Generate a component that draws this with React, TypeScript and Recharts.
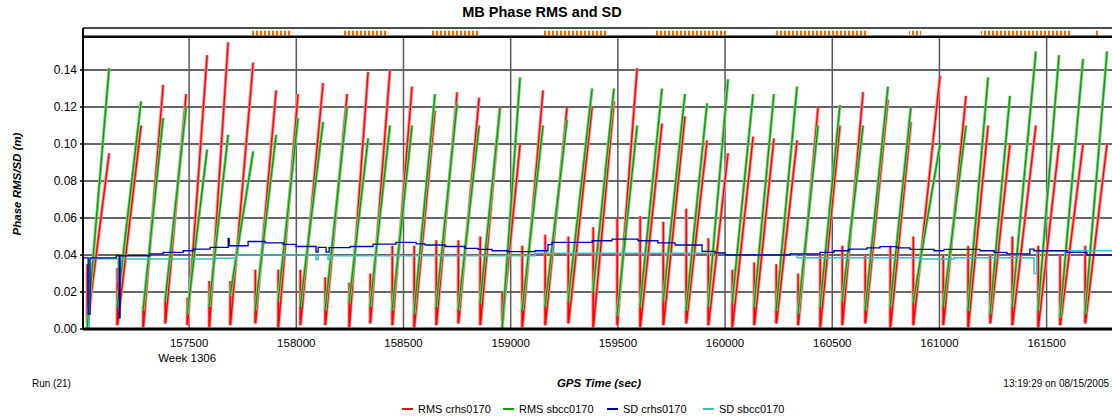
import React from "react";
import {
  ComposedChart,
  Line,
  XAxis,
  YAxis,
  CartesianGrid,
  ReferenceLine,
  ReferenceArea,
} from "recharts";

// ---------- axis values ----------
const X_MIN = 157005;
const X_MAX = 161805;
const xTicks = [157500, 158000, 158500, 159000, 159500, 160000, 160500, 161000, 161500];
const yTicks = [0, 0.02, 0.04, 0.06, 0.08, 0.1, 0.12, 0.14];
const PLOT_TOP = 0.158; // thick line under the status band
const BAND_TOP = 0.1627; // top edge of status band
const MARK_LO = 0.1588;
const MARK_HI = 0.1612;

// ---------- status band groups (orange ticks) ----------
const bandStart = [157784, 158214, 158629, 159151, 159669, 160238, 160858, 161194, 161726];
const bandEnd = [157976, 158428, 158857, 159450, 160014, 160662, 160914, 161609, 161740];

// ---------- RMS sawtooth cycles (shared epochs) ----------
const toothStart = [
  157024, 157164, 157285, 157388, 157491, 157593, 157691, 157808, 157915, 158018,
  158134, 158246, 158344, 158447, 158549, 158652, 158755, 158857, 158960, 159053,
  159160, 159268, 159384, 159496, 159603, 159711, 159818, 159921, 160033, 160135,
  160238, 160340, 160443, 160546, 160653, 160770, 160877, 161017, 161133, 161236,
  161339, 161460, 161562, 161679,
];
const toothPeak = [
  157127, 157276, 157379, 157486, 157584, 157682, 157799, 157906, 158008, 158125,
  158237, 158335, 158437, 158540, 158647, 158750, 158853, 158950, 159044, 159151,
  159263, 159380, 159482, 159590, 159706, 159813, 159916, 160014, 160131, 160228,
  160336, 160434, 160536, 160644, 160760, 160867, 161003, 161124, 161227, 161329,
  161450, 161558, 161670, 161782,
];
const redLow = [
  0.003, 0.002, 0.001, 0.003, 0.002, 0.001, 0.002, 0.003, 0.001, 0.002,
  0.002, 0.001, 0.003, 0.002, 0.001, 0.002, 0.003, 0.002, 0.004, 0.001,
  0.002, 0.003, 0.001, 0.002, 0.001, 0.002, 0.003, 0.002, 0.001, 0.002,
  0.003, 0.002, 0.001, 0.002, 0.003, 0.001, 0.002, 0.002, 0.001, 0.003,
  0.002, 0.001, 0.002, 0.003,
];
const redSpike = [
  0.035, 0.033, 0.012, 0.017, 0.017, 0.026, 0.026, 0.032, 0.032, 0.032,
  0.028, 0.025, 0.03, 0.045, 0.045, 0.048, 0.048, 0.05, 0.02, 0.045,
  0.051, 0.05, 0.055, 0.06, 0.061, 0.058, 0.065, 0.049, 0.032, 0.036,
  0.035, 0.03, 0.04, 0.045, 0.04, 0.045, 0.05, 0.04, 0.045, 0.04,
  0.05, 0.045, 0.04, 0.045,
];
const redPeak = [
  0.095, 0.11, 0.132, 0.127, 0.148, 0.155, 0.144, 0.129, 0.127, 0.133,
  0.127, 0.139, 0.14, 0.131, 0.118, 0.128, 0.125, 0.12, 0.1, 0.129,
  0.12, 0.12, 0.123, 0.141, 0.111, 0.115, 0.102, 0.095, 0.104, 0.103,
  0.102, 0.12, 0.11, 0.128, 0.124, 0.112, 0.137, 0.126, 0.11, 0.1,
  0.11, 0.1, 0.1, 0.1,
];
const greenLow = [
  0.0, 0.012, 0.01, 0.015, 0.008, 0.012, 0.018, 0.01, 0.015, 0.012,
  0.01, 0.014, 0.012, 0.01, 0.008, 0.012, 0.01, 0.014, 0.0, 0.01,
  0.012, 0.015, 0.02, 0.007, 0.012, 0.015, 0.01, 0.012, 0.014, 0.012,
  0.01, 0.008, 0.012, 0.015, 0.01, 0.012, 0.014, 0.012, 0.01, 0.008,
  0.012, 0.01, 0.006, 0.008,
];
const greenPeak = [
  0.141, 0.123, 0.114, 0.12, 0.097, 0.105, 0.096, 0.105, 0.114, 0.112,
  0.12, 0.103, 0.11, 0.11, 0.127, 0.122, 0.11, 0.119, 0.136, 0.11,
  0.113, 0.13, 0.13, 0.11, 0.13, 0.127, 0.122, 0.135, 0.127, 0.127,
  0.131, 0.11, 0.121, 0.11, 0.131, 0.12, 0.1, 0.11, 0.136, 0.126,
  0.15, 0.148, 0.146, 0.15,
];

// ---------- SD step series ----------
const sdCrhsT = [
  157005, 157029, 157038, 157160, 157174, 157178, 157318, 157379, 157472, 157519,
  157598, 157682, 157687, 157775, 157855, 157938, 157999, 158092, 158102, 158139,
  158153, 158251, 158358, 158465, 158559, 158601, 158694, 158787, 158848, 158913,
  158988, 159114, 159174, 159193, 159380, 159473, 159594, 159687, 159767, 159893,
  159953, 160000, 160303, 160443, 160508, 160578, 160662, 160723, 160802, 160863,
  160975, 161021, 161189, 161255, 161315, 161422, 161441, 161595, 161688, 161805,
];
const sdCrhsV = [
  0.0384, 0.008, 0.0384, 0.0396, 0.006, 0.0396, 0.0406, 0.0414, 0.0423, 0.0432,
  0.0441, 0.049, 0.045, 0.0473, 0.0465, 0.0457, 0.0446, 0.0415, 0.0441, 0.0415,
  0.044, 0.0446, 0.0459, 0.0468, 0.046, 0.0454, 0.0446, 0.0436, 0.043, 0.0423,
  0.0418, 0.0423, 0.0456, 0.0468, 0.0477, 0.0486, 0.0477, 0.0465, 0.0454, 0.042,
  0.0411, 0.04, 0.0406, 0.0414, 0.0423, 0.0432, 0.0438, 0.0445, 0.0438, 0.043,
  0.0423, 0.043, 0.0423, 0.0414, 0.0406, 0.0432, 0.0423, 0.0414, 0.04, 0.04,
];
const sdSbccT = [
  157029, 157034, 157169, 157178, 157626, 157719, 158092, 158102, 158148, 158158,
  159114, 160000, 160336, 160909, 161068, 161441, 161455, 161805,
];
const sdSbccV = [
  0.0, 0.038, 0.025, 0.0378, 0.0383, 0.04, 0.0375, 0.0398, 0.0375, 0.0396,
  0.041, 0.0398, 0.0385, 0.0378, 0.0385, 0.03, 0.0423, 0.0423,
];

// ---------- legend ----------
const seriesNames = ["RMS crhs0170", "RMS sbcc0170", "SD crhs0170", "SD sbcc0170"];
const seriesColors = ["#ff0000", "#00a000", "#0000a8", "#3cbcbc"];
const haloColors = ["#ff8c8c", "#7ccc7c"];

// ---------- build tables ----------
const redData = toothStart.flatMap((s, i) => [
  { t: s, v: redLow[i] },
  { t: s + 1, v: redSpike[i] },
  { t: s + 2, v: redLow[i] },
  { t: toothPeak[i], v: redPeak[i] },
  { t: toothPeak[i] + 1, v: null },
]);
const greenData = toothStart.flatMap((s, i) => [
  { t: s, v: greenLow[i] },
  { t: toothPeak[i], v: greenPeak[i] },
  { t: toothPeak[i] + 1, v: null },
]);
const blueData = sdCrhsT.map((t, i) => ({ t, v: sdCrhsV[i] }));
const cyanData = sdSbccT.map((t, i) => ({ t, v: sdSbccV[i] }));

const FONT = "'Liberation Sans', Arial, sans-serif";

const XTick = (props: any) => {
  const { x, y, payload } = props;
  return (
    <g>
      <text x={x} y={y + 10.3} textAnchor="middle" fontFamily={FONT} fontSize={11.5} fill="#000">
        {payload.value}
      </text>
      {payload.value === xTicks[0] ? (
        <text x={x - 2} y={y + 24.5} textAnchor="middle" fontFamily={FONT} fontSize={11.5} fill="#000">
          Week 1306
        </text>
      ) : null}
    </g>
  );
};

const YTick = (props: any) => {
  const { x, y, payload } = props;
  return (
    <text x={x} y={y + 4.3} textAnchor="end" fontFamily={FONT} fontSize={12} fill="#000">
      {Number(payload.value).toFixed(2)}
    </text>
  );
};

const legendX = [402, 503, 607, 703];

export default function App() {
  return (
    <div
      style={{
        position: "absolute",
        left: 0,
        top: 0,
        width: 1112,
        height: 417,
        overflow: "hidden",
        background: "#ffffff",
      }}
    >
      <svg width={0} height={0} style={{ position: "absolute" }}>
        <defs>
          <pattern id="orangeTicks" patternUnits="userSpaceOnUse" x={0} y={0} width={4} height={20}>
            <rect x={0} y={0} width={2} height={20} fill="#ff6600" />
          </pattern>
        </defs>
      </svg>
      <ComposedChart
        width={1112}
        height={417}
        margin={{ top: 28, right: 0, bottom: 48, left: 0 }}
      >
        <CartesianGrid vertical={false} stroke="#333333" strokeWidth={1.5} />
        <XAxis
          dataKey="t"
          type="number"
          domain={[X_MIN, X_MAX]}
          ticks={xTicks}
          interval={0}
          allowDataOverflow
          height={40}
          tickLine={false}
          tickSize={6}
          tickMargin={2}
          axisLine={{ stroke: "#000", strokeWidth: 3 }}
          tick={<XTick />}
        />
        <YAxis
          type="number"
          domain={[0, BAND_TOP]}
          ticks={yTicks}
          interval={0}
          allowDataOverflow
          width={83}
          tickSize={3}
          tickMargin={3}
          tickLine={{ stroke: "#000", strokeWidth: 1.5 }}
          axisLine={{ stroke: "#000", strokeWidth: 2 }}
          tick={<YTick />}
        />
        {xTicks.map((t) => (
          <ReferenceLine
            key={"v" + t}
            segment={[
              { x: t, y: 0 },
              { x: t, y: PLOT_TOP },
            ]}
            stroke="#5a5a5a"
            strokeWidth={1.5}
          />
        ))}
        {bandStart.map((s, i) => (
          <ReferenceArea
            key={"b" + i}
            x1={s}
            x2={bandEnd[i]}
            y1={MARK_LO}
            y2={MARK_HI}
            fill="url(#orangeTicks)"
            fillOpacity={1}
            stroke="none"
          />
        ))}
        <ReferenceLine y={BAND_TOP} stroke="#444" strokeWidth={1.5} />
        <ReferenceLine y={PLOT_TOP} stroke="#000" strokeWidth={2.5} />
        <Line
          data={redData}
          dataKey="v"
          type="linear"
          stroke={haloColors[0]}
          strokeWidth={3.2}
          dot={false}
          legendType="none"
          isAnimationActive={false}
        />
        <Line
          data={redData}
          dataKey="v"
          type="linear"
          stroke={seriesColors[0]}
          strokeWidth={1.4}
          dot={false}
          isAnimationActive={false}
        />
        <Line
          data={greenData}
          dataKey="v"
          type="linear"
          stroke={haloColors[1]}
          strokeWidth={3}
          dot={false}
          legendType="none"
          isAnimationActive={false}
        />
        <Line
          data={greenData}
          dataKey="v"
          type="linear"
          stroke={seriesColors[1]}
          strokeWidth={1.3}
          dot={false}
          isAnimationActive={false}
        />
        <Line
          data={cyanData}
          dataKey="v"
          type="stepAfter"
          stroke={seriesColors[3]}
          strokeWidth={1.5}
          dot={false}
          isAnimationActive={false}
        />
        <Line
          data={blueData}
          dataKey="v"
          type="stepAfter"
          stroke={seriesColors[2]}
          strokeWidth={1.3}
          dot={false}
          isAnimationActive={false}
        />
      </ComposedChart>
      <svg
        width={1112}
        height={417}
        style={{ position: "absolute", left: 0, top: 0, pointerEvents: "none" }}
      >
        <text x={542} y={17} textAnchor="middle" fontFamily={FONT} fontSize={14.5} fontWeight="bold" fill="#000">
          MB Phase RMS and SD
        </text>
        <text
          transform="translate(21,184) rotate(-90)"
          textAnchor="middle"
          fontFamily={FONT}
          fontSize={11.5}
          fontWeight="bold"
          fontStyle="italic"
          fill="#000"
        >
          Phase RMS/SD (m)
        </text>
        <text x={599} y={387} textAnchor="middle" fontFamily={FONT} fontSize={11.5} fontWeight="bold" fontStyle="italic" fill="#000">
          GPS Time (sec)
        </text>
        <text x={32} y={386.5} fontFamily={FONT} fontSize={10} fill="#000">
          Run (21)
        </text>
        <text x={1109} y={386.5} textAnchor="end" fontFamily={FONT} fontSize={10} fill="#000">
          13:19:29 on 08/15/2005
        </text>
        {seriesNames.map((n, i) => (
          <g key={n}>
            <line x1={legendX[i]} x2={legendX[i] + 11} y1={409} y2={409} stroke={seriesColors[i]} strokeWidth={2} />
            <text x={legendX[i] + 16} y={413} fontFamily={FONT} fontSize={11} fill="#000">
              {n}
            </text>
          </g>
        ))}
      </svg>
    </div>
  );
}
